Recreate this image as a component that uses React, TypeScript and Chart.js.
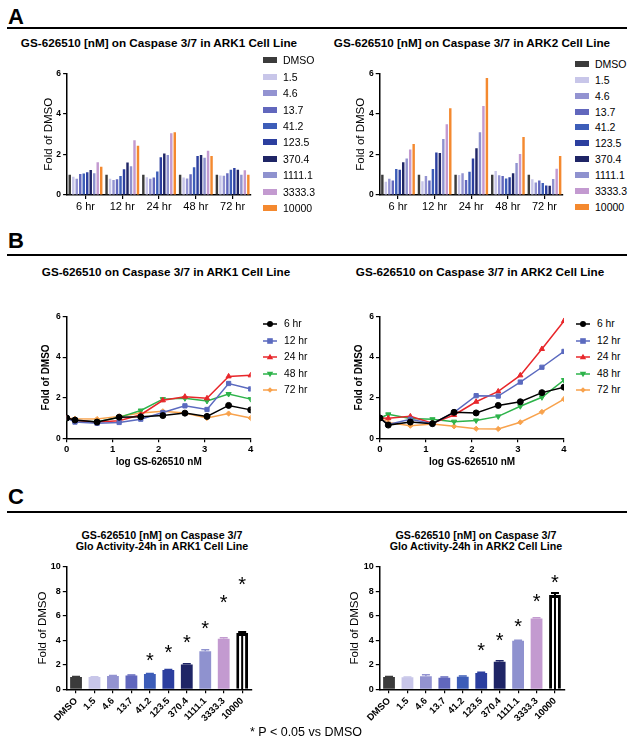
import React, { useEffect, useRef } from 'react';
import { Chart, registerables } from 'chart.js';
Chart.register(...registerables);

const FONT = 'Arial, "Liberation Sans", Helvetica, sans-serif';

// ---------------- data ----------------
const doseLabels = ['DMSO', '1.5', '4.6', '13.7', '41.2', '123.5', '370.4', '1111.1', '3333.3', '10000'];
const logDose = [0, 0.18, 0.66, 1.14, 1.61, 2.09, 2.57, 3.05, 3.52, 4];
const timeLabels = ['6 hr', '12 hr', '24 hr', '48 hr', '72 hr'];

// ARK1 fold of DMSO, per time point, across doses
const ark1_6hr = [1.0, 0.9, 0.8, 1.04, 1.06, 1.12, 1.24, 1.08, 1.62, 1.4];
const ark1_12hr = [1.0, 0.8, 0.74, 0.78, 0.94, 1.27, 1.6, 1.42, 2.7, 2.43];
const ark1_24hr = [1.0, 0.88, 0.8, 0.86, 1.16, 1.87, 2.05, 1.97, 3.05, 3.1];
const ark1_48hr = [1.0, 0.86, 0.82, 1.03, 1.37, 1.93, 1.97, 1.84, 2.18, 1.93];
const ark1_72hr = [1.0, 0.96, 0.95, 1.08, 1.25, 1.33, 1.25, 1.0, 1.22, 1.0];

// ARK2
const ark2_6hr = [1.0, 0.65, 0.8, 0.72, 1.28, 1.25, 1.62, 1.8, 2.25, 2.52];
const ark2_12hr = [1.0, 0.68, 0.94, 0.72, 1.28, 2.1, 2.08, 2.77, 3.5, 4.28];
const ark2_24hr = [1.0, 0.99, 1.08, 0.74, 1.15, 1.8, 2.31, 3.1, 4.4, 5.78];
const ark2_48hr = [1.0, 1.18, 0.98, 0.94, 0.82, 0.88, 1.08, 1.58, 2.02, 2.87];
const ark2_72hr = [1.0, 0.78, 0.62, 0.71, 0.59, 0.47, 0.46, 0.79, 1.3, 1.93];

const ark1Series = [ark1_6hr, ark1_12hr, ark1_24hr, ark1_48hr, ark1_72hr];
const ark2Series = [ark2_6hr, ark2_12hr, ark2_24hr, ark2_48hr, ark2_72hr];

// Panel C: 24h Glo activity
const ark1_24h_mean = [1.0, 1.0, 1.08, 1.12, 1.24, 1.57, 2.03, 3.1, 4.13, 4.6];
const ark1_24h_err = [0.05, 0.03, 0.04, 0.04, 0.04, 0.05, 0.06, 0.12, 0.07, 0.08];
const ark1_star = [null, null, null, null, 2.6, 3.25, 4.12, 5.27, 7.33, 8.83];
const ark2_24h_mean = [1.0, 0.98, 1.07, 0.95, 1.03, 1.33, 2.25, 3.95, 5.78, 7.7];
const ark2_24h_err = [0.05, 0.03, 0.12, 0.05, 0.06, 0.07, 0.08, 0.05, 0.06, 0.15];
const ark2_star = [null, null, null, null, null, 3.42, 4.24, 5.43, 7.47, 8.97];

// ---------------- styles ----------------
const doseColors = ['#3b3b3b', '#c8c6e9', '#9393d1', '#6167bd', '#3d5db8', '#2c3f9f', '#1f2566', '#8f92cf', '#c39ad0', '#f4892f'];
const cColors = ['#3b3b3b', '#c8c6e9', '#9393d1', '#6167bd', '#3d5db8', '#2c3f9f', '#1f2566', '#8f92cf', '#c39ad0', '#ffffff'];
const lineColors = ['#000000', '#5b6abf', '#e8272b', '#2db34a', '#f8a24c'];
const pointStyles = ['circle', 'rect', 'triangle', 'triangle', 'rectRot'];
const pointRotations = [0, 0, 0, 180, 0];

type Geom = { cl: number; ct: number; w: number; h: number; areaL: number; areaR: number; areaT: number; areaB: number; titleX: number; titleHalf: number };

function layoutFrom(g: Geom) {
  const padLeft = g.titleX - g.cl - g.titleHalf;
  return {
    padding: { left: padLeft, right: g.cl + g.w - g.areaR, top: g.areaT - g.ct, bottom: 0 },
    yWidth: g.areaL - g.cl - padLeft,
    xHeight: g.ct + g.h - g.areaB,
  };
}

const gA1: Geom = { cl: 0, ct: 62, w: 258, h: 153, areaL: 67.1, areaR: 251, areaT: 73.5, areaB: 195, titleX: 48.5, titleHalf: 6.9 };
const gA2: Geom = { cl: 312, ct: 62, w: 258, h: 153, areaL: 379.7, areaR: 562.8, areaT: 73.5, areaB: 195, titleX: 361, titleHalf: 6.9 };
const gB1: Geom = { cl: 0, ct: 304, w: 258, h: 164, areaL: 66.7, areaR: 250.7, areaT: 316.5, areaB: 438.3, titleX: 46.5, titleHalf: 6 };
const gB2: Geom = { cl: 312, ct: 304, w: 258, h: 164, areaL: 380, areaR: 564, areaT: 316.5, areaB: 438.3, titleX: 359, titleHalf: 6 };
const gC1: Geom = { cl: 0, ct: 556, w: 258, h: 175, areaL: 66.8, areaR: 251.4, areaT: 566.7, areaB: 689.3, titleX: 43, titleHalf: 6.9 };
const gC2: Geom = { cl: 312, ct: 556, w: 258, h: 175, areaL: 379.8, areaR: 564.2, areaT: 566.7, areaB: 689.3, titleX: 355, titleHalf: 6.9 };

function yAxis(max: number, step: number, title: string, titleFont: any, tickSize: number, yWidth: number) {
  return {
    min: 0,
    max,
    ticks: { stepSize: step, font: { family: FONT, size: tickSize, weight: 'bold' }, color: '#000', padding: 2 },
    grid: { display: true, drawOnChartArea: false, drawTicks: true, tickLength: 4, color: '#000', lineWidth: 1.2 },
    border: { display: true, color: '#000', width: 1.5 },
    title: { display: true, text: title, font: titleFont, color: '#000', padding: 0 },
    afterFit: (s: any) => { s.width = yWidth; },
  };
}

function barConfigA(series: number[][], g: Geom) {
  const L = layoutFrom(g);
  return {
    type: 'bar',
    data: {
      labels: timeLabels,
      datasets: doseLabels.map((d, di) => ({
        label: d,
        data: series.map((s) => s[di]),
        backgroundColor: doseColors[di],
        categoryPercentage: 0.95,
        barPercentage: 0.7,
      })),
    },
    options: {
      animation: false,
      responsive: false,
      layout: { padding: L.padding },
      plugins: { legend: { display: false }, tooltip: { enabled: false } },
      scales: {
        x: {
          ticks: { font: { family: FONT, size: 11 }, color: '#000', padding: 1 },
          grid: { display: true, offset: false, drawOnChartArea: false, drawTicks: true, tickLength: 4, color: '#000', lineWidth: 1.2 },
          border: { display: true, color: '#000', width: 1.5 },
          afterFit: (s: any) => { s.height = L.xHeight; },
        },
        y: yAxis(6, 2, 'Fold of DMSO', { family: FONT, size: 11.5 }, 8.5, L.yWidth),
      },
    },
  };
}

function lineConfigB(series: number[][], g: Geom) {
  const L = layoutFrom(g);
  return {
    type: 'line',
    data: {
      datasets: timeLabels.map((t, ti) => ({
        label: t,
        data: logDose.map((x, i) => ({ x, y: series[ti][i] })),
        borderColor: lineColors[ti],
        backgroundColor: lineColors[ti],
        borderWidth: 1.5,
        pointStyle: pointStyles[ti],
        rotation: pointRotations[ti],
        pointRadius: ti === 4 ? 2.6 : 3,
        pointBorderWidth: 1,
        tension: 0,
      })),
    },
    options: {
      animation: false,
      responsive: false,
      layout: { padding: L.padding },
      plugins: { legend: { display: false }, tooltip: { enabled: false } },
      scales: {
        x: {
          type: 'linear',
          min: 0,
          max: 4,
          ticks: { stepSize: 1, font: { family: FONT, size: 9.5, weight: 'bold' }, color: '#000', padding: 1 },
          grid: { display: true, drawOnChartArea: false, drawTicks: true, tickLength: 4, color: '#000', lineWidth: 1.2 },
          border: { display: true, color: '#000', width: 1.5 },
          title: { display: true, text: 'log GS-626510 nM', font: { family: FONT, size: 10, weight: 'bold' }, color: '#000', padding: 0 },
          afterFit: (s: any) => { s.height = L.xHeight; },
        },
        y: yAxis(6, 2, 'Fold of DMSO', { family: FONT, size: 10, weight: 'bold' }, 8.5, L.yWidth),
      },
    },
  };
}

function makeAnnot(errors: number[], stars: (number | null)[]) {
  return {
    id: 'errStars',
    afterDatasetsDraw(chart: any) {
      const ctx = chart.ctx;
      const y = chart.scales.y;
      const meta = chart.getDatasetMeta(0);
      const ds = chart.data.datasets[0];
      meta.data.forEach((el: any, i: number) => {
        const v = ds.data[i];
        const e = errors[i];
        const x = el.x;
        const yTop = y.getPixelForValue(v + e);
        const hollow = ds.backgroundColor[i] === '#ffffff';
        ctx.save();
        ctx.strokeStyle = hollow ? '#000' : ds.backgroundColor[i];
        ctx.lineWidth = hollow ? 2 : 1.5;
        ctx.beginPath();
        ctx.moveTo(x, hollow ? y.getPixelForValue(0) : y.getPixelForValue(v));
        ctx.lineTo(x, yTop);
        ctx.moveTo(x - 4, yTop);
        ctx.lineTo(x + 4, yTop);
        ctx.stroke();
        const s = stars[i];
        if (s != null) {
          ctx.font = `20px ${FONT}`;
          ctx.fillStyle = '#000';
          ctx.textAlign = 'center';
          ctx.textBaseline = 'alphabetic';
          const m = ctx.measureText('*');
          const py = y.getPixelForValue(s);
          ctx.fillText('*', x, py + (m.actualBoundingBoxAscent - m.actualBoundingBoxDescent) / 2);
        }
        ctx.restore();
      });
    },
  };
}

function barConfigC(values: number[], errors: number[], stars: (number | null)[], g: Geom) {
  const L = layoutFrom(g);
  return {
    type: 'bar',
    data: {
      labels: doseLabels,
      datasets: [
        {
          label: 'Fold of DMSO',
          data: values,
          backgroundColor: cColors,
          borderColor: cColors.map((c) => (c === '#ffffff' ? '#000000' : c)),
          borderWidth: cColors.map((c) => (c === '#ffffff' ? 3 : 0)),
          borderSkipped: 'start',
          categoryPercentage: 1,
          barPercentage: 0.64,
        },
      ],
    },
    plugins: [makeAnnot(errors, stars)],
    options: {
      animation: false,
      responsive: false,
      layout: { padding: L.padding },
      plugins: { legend: { display: false }, tooltip: { enabled: false } },
      scales: {
        x: {
          ticks: { font: { family: FONT, size: 9.5, weight: 'bold' }, color: '#000', padding: 2, minRotation: 45, maxRotation: 45, autoSkip: false },
          grid: { display: true, offset: false, drawOnChartArea: false, drawTicks: true, tickLength: 4, color: '#000', lineWidth: 1.2 },
          border: { display: true, color: '#000', width: 1.5 },
          afterFit: (s: any) => { s.height = L.xHeight; },
        },
        y: yAxis(10, 2, 'Fold of DMSO', { family: FONT, size: 11.5 }, 9, L.yWidth),
      },
    },
  };
}

function ChartCanvas({ g, build }: { g: Geom; build: () => any }) {
  const ref = useRef<HTMLCanvasElement>(null);
  useEffect(() => {
    const chart = new Chart(ref.current as HTMLCanvasElement, build());
    return () => chart.destroy();
  }, []);
  return (
    <canvas
      ref={ref}
      width={g.w}
      height={g.h}
      style={{ position: 'absolute', left: g.cl, top: g.ct, width: g.w, height: g.h }}
    />
  );
}

function Txt({ x, y, size, bold, align, children }: { x: number; y: number; size: number; bold?: boolean; align?: 'center' | 'left'; children: React.ReactNode }) {
  const tx = align === 'left' ? '0' : '-50%';
  return (
    <div
      style={{
        position: 'absolute',
        left: x,
        top: y,
        transform: `translate(${tx}, -50%)`,
        fontSize: size,
        fontWeight: bold ? 'bold' : 'normal',
        lineHeight: 1,
        whiteSpace: 'nowrap',
        fontFamily: FONT,
        color: '#000',
      }}
    >
      {children}
    </div>
  );
}

function Rule({ y }: { y: number }) {
  return <div style={{ position: 'absolute', left: 7, width: 620, top: y - 1.1, height: 2.2, background: '#000' }} />;
}

function BarLegend({ x, y0, dy }: { x: number; y0: number; dy: number }) {
  return (
    <>
      {doseLabels.map((d, i) => (
        <React.Fragment key={d}>
          <div style={{ position: 'absolute', left: x, top: y0 + dy * i - 3, width: 14, height: 6, background: doseColors[i] }} />
          <Txt x={x + 20} y={y0 + dy * i} size={10.5} align="left">{d}</Txt>
        </React.Fragment>
      ))}
    </>
  );
}

function Marker({ i }: { i: number }) {
  const c = lineColors[i];
  const cx = 8, cy = 5;
  let shape: React.ReactNode = null;
  if (i === 0) shape = <circle cx={cx} cy={cy} r={3} fill={c} />;
  else if (i === 1) shape = <rect x={cx - 2.8} y={cy - 2.8} width={5.6} height={5.6} fill={c} />;
  else if (i === 2) shape = <polygon points={`${cx},${cy - 3.3} ${cx + 3.2},${cy + 2.2} ${cx - 3.2},${cy + 2.2}`} fill={c} />;
  else if (i === 3) shape = <polygon points={`${cx},${cy + 3.3} ${cx + 3.2},${cy - 2.2} ${cx - 3.2},${cy - 2.2}`} fill={c} />;
  else shape = <polygon points={`${cx},${cy - 2.8} ${cx + 2.8},${cy} ${cx},${cy + 2.8} ${cx - 2.8},${cy}`} fill={c} />;
  return (
    <svg width={16} height={10} style={{ display: 'block' }}>
      <line x1={1} y1={cy} x2={15} y2={cy} stroke={c} strokeWidth={1.5} />
      {shape}
    </svg>
  );
}

function LineLegend({ x, y0, dy, textX }: { x: number; y0: number; dy: number; textX: number }) {
  return (
    <>
      {timeLabels.map((t, i) => (
        <React.Fragment key={t}>
          <div style={{ position: 'absolute', left: x - 8, top: y0 + dy * i - 5 }}>
            <Marker i={i} />
          </div>
          <Txt x={textX} y={y0 + dy * i} size={10.3} align="left">{t}</Txt>
        </React.Fragment>
      ))}
    </>
  );
}

export default function App() {
  return (
    <div style={{ position: 'absolute', left: 0, top: 0, width: 633, height: 743, background: '#fff', fontFamily: FONT, overflow: 'hidden' }}>
      {/* Panel A */}
      <Txt x={8} y={16.5} size={22} bold align="left">A</Txt>
      <Rule y={28} />
      <Txt x={159} y={42.5} size={11.7} bold>GS-626510 [nM] on Caspase 3/7 in ARK1 Cell Line</Txt>
      <Txt x={472} y={42.5} size={11.7} bold>GS-626510 [nM] on Caspase 3/7 in ARK2 Cell Line</Txt>
      <ChartCanvas g={gA1} build={() => barConfigA(ark1Series, gA1)} />
      <ChartCanvas g={gA2} build={() => barConfigA(ark2Series, gA2)} />
      <BarLegend x={263} y0={60.3} dy={16.4} />
      <BarLegend x={575} y0={63.8} dy={15.9} />

      {/* Panel B */}
      <Txt x={8} y={241} size={22} bold align="left">B</Txt>
      <Rule y={254.7} />
      <Txt x={166} y={272} size={11.7} bold>GS-626510 on Caspase 3/7 in ARK1 Cell Line</Txt>
      <Txt x={480} y={272} size={11.7} bold>GS-626510 on Caspase 3/7 in ARK2 Cell Line</Txt>
      <ChartCanvas g={gB1} build={() => lineConfigB(ark1Series, gB1)} />
      <ChartCanvas g={gB2} build={() => lineConfigB(ark2Series, gB2)} />
      <LineLegend x={270} y0={324.3} dy={16.4} textX={284} />
      <LineLegend x={583} y0={324.3} dy={16.4} textX={597} />

      {/* Panel C */}
      <Txt x={8} y={496.5} size={22} bold align="left">C</Txt>
      <Rule y={511.7} />
      <Txt x={162} y={534.5} size={10.7} bold>GS-626510 [nM] on Caspase 3/7</Txt>
      <Txt x={162} y={546} size={10.7} bold>Glo Activity-24h in ARK1 Cell Line</Txt>
      <Txt x={476} y={534.5} size={10.7} bold>GS-626510 [nM] on Caspase 3/7</Txt>
      <Txt x={476} y={546} size={10.7} bold>Glo Activity-24h in ARK2 Cell Line</Txt>
      <ChartCanvas g={gC1} build={() => barConfigC(ark1_24h_mean, ark1_24h_err, ark1_star, gC1)} />
      <ChartCanvas g={gC2} build={() => barConfigC(ark2_24h_mean, ark2_24h_err, ark2_star, gC2)} />
      <Txt x={250} y={732} size={12.5} align="left">* P &lt; 0.05 vs DMSO</Txt>
    </div>
  );
}
